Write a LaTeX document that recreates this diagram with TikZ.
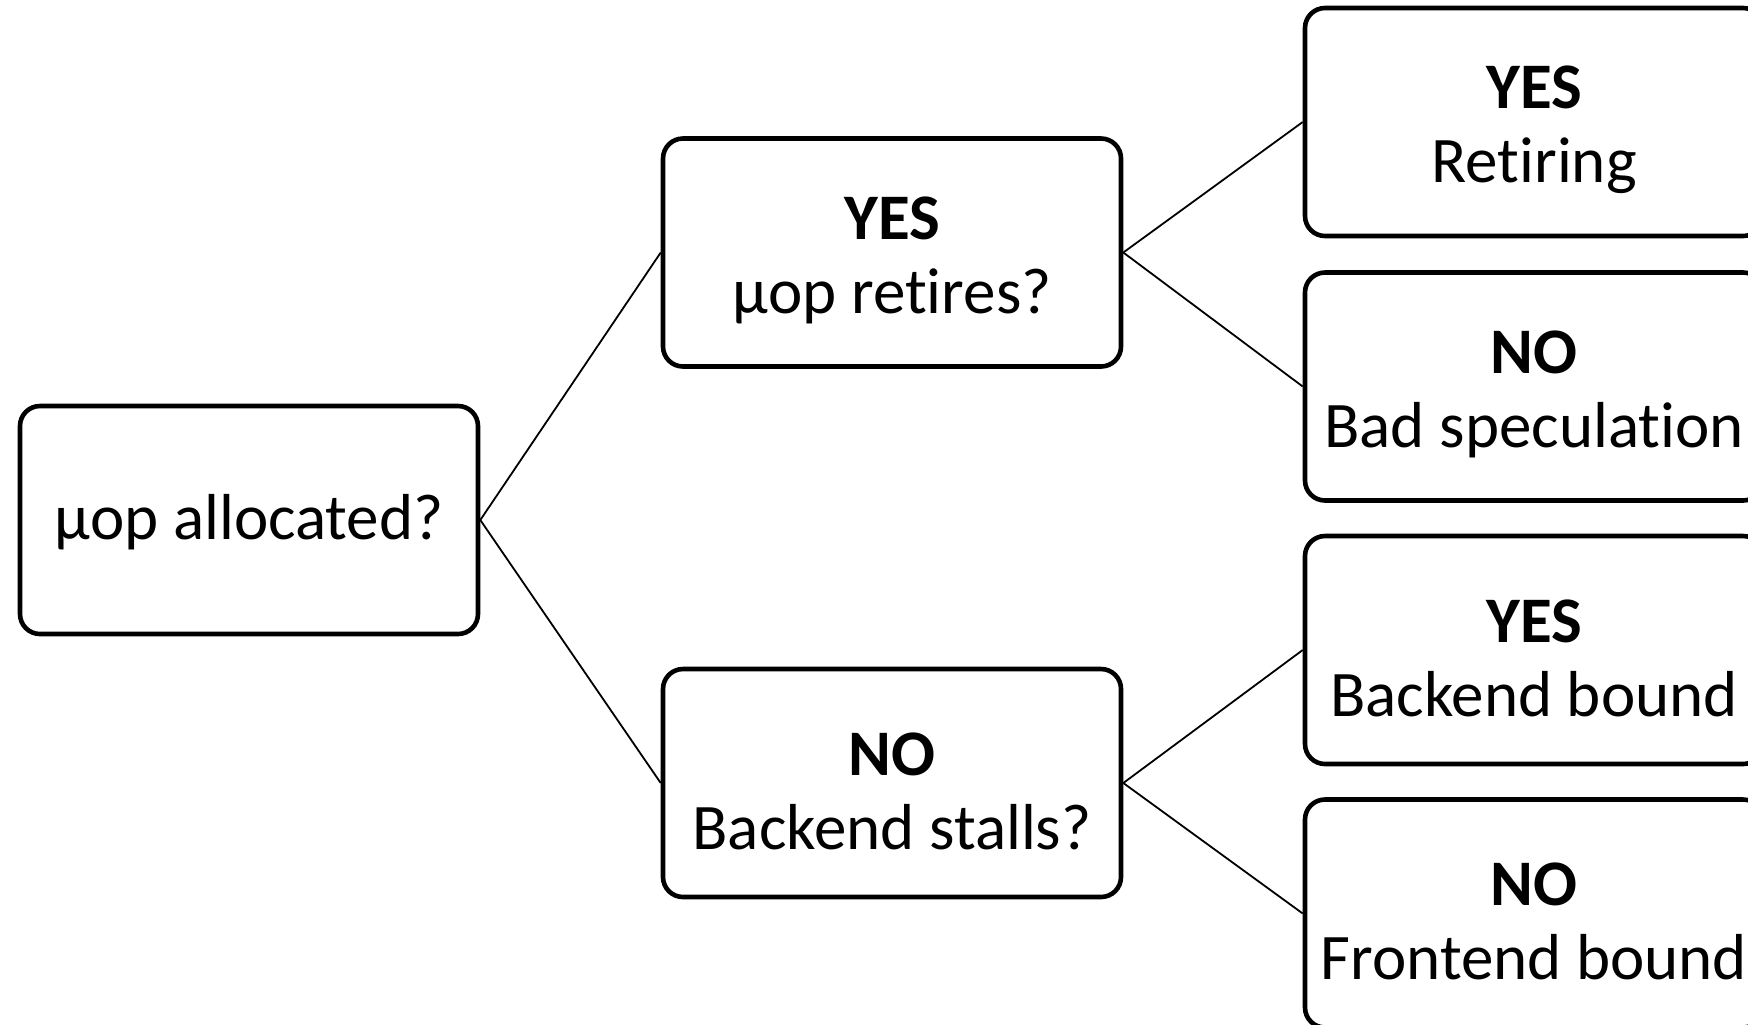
\documentclass[tikz,border=0pt]{standalone}
\usepackage{fontspec}
\setmainfont[Ligatures=NoCommon]{Carlito}
\begin{document}
\begin{tikzpicture}[x=0.5pt,y=-0.5pt,
  box/.style={draw, line width=2.3pt, rounded corners=10pt,
    minimum width=229pt, minimum height=114pt, inner sep=0pt},
  txt/.style={align=center, inner sep=0pt,
    font=\fontsize{32.5}{37}\selectfont},
  link/.style={line width=0.9pt}]
\useasboundingbox (0,0) rectangle (1748,1024);
\clip (0,0) rectangle (1748,1024);
% decision tree boxes
\node[box] (alloc)  at (249,520)    {};
\node[box] (retire) at (892,252.5)  {};
\node[box] (stall)  at (892,783)    {};
\node[box] (ret)    at (1534,122)   {};
\node[box] (bad)    at (1534,386.5) {};
\node[box] (back)   at (1534,650)   {};
\node[box] (front)  at (1534,913.5) {};
% box texts
\node[txt] (allocT)  at ([yshift=-1pt]alloc.center)  {µop allocated?};
\node[txt] (retireT) at ([yshift=-4pt]retire.center) {\textbf{YES}\\µop retires?};
\node[txt] (stallT)  at ([yshift=-4pt]stall.center)  {\textbf{NO}\\Backend stalls?};
\node[txt] (retT)    at ([yshift=-4pt]ret.center)    {\textbf{YES}\\Retiring};
\node[txt] (badT)    at ([yshift=-4pt]bad.center)    {\textbf{NO}\\Bad speculation};
\node[txt] (backT)   at ([yshift=-4pt]back.center)   {\textbf{YES}\\Backend bound};
\node[txt] (frontT)  at ([yshift=-4pt]front.center)  {\textbf{NO}\\Frontend bound};
% branches
\draw[link] (alloc.east) -- (retire.west);
\draw[link] (alloc.east) -- (stall.west);
\draw[link] (retire.east) -- (ret.west);
\draw[link] (retire.east) -- (bad.west);
\draw[link] (stall.east) -- (back.west);
\draw[link] (stall.east) -- (front.west);
\end{tikzpicture}
\end{document}
